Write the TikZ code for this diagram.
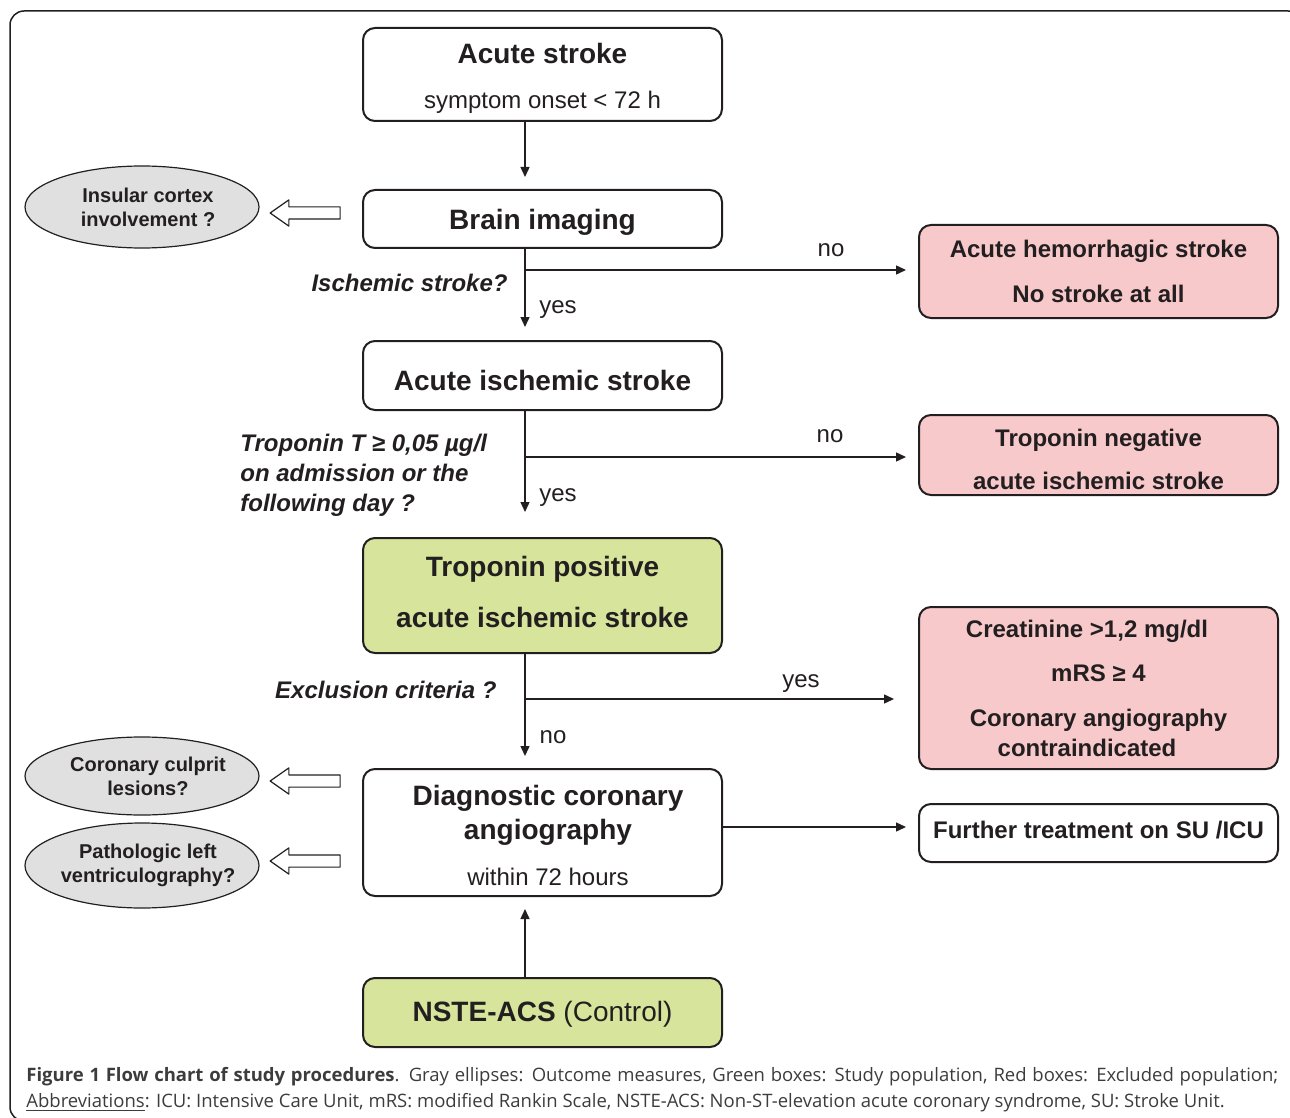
\documentclass[tikz,border=0pt]{standalone}
\usepackage{fontspec}
\setmainfont{Liberation Sans}
\newfontfamily\capfont{Open Sans}
\usetikzlibrary{arrows.meta,shapes.geometric,shapes.arrows}

\definecolor{boxpink}{RGB}{248,201,203}
\definecolor{boxgreen}{RGB}{215,228,155}
\definecolor{ellgray}{RGB}{224,224,224}
\definecolor{inkdark}{RGB}{35,31,32}
\definecolor{capgray}{RGB}{60,60,60}

\begin{document}
\begin{tikzpicture}[x=0.5pt,y=-0.5pt,line join=round,
  box/.style={draw=inkdark,line width=1pt,rounded corners=6pt,align=center,text=inkdark,
    inner sep=2pt,minimum width=179.5pt,font=\fontsize{12}{14}\selectfont},
  whitebox/.style={box,fill=white},
  pinkbox/.style={box,fill=boxpink},
  greenbox/.style={box,fill=boxgreen},
  outcome/.style={ellipse,draw=inkdark,line width=0.6pt,fill=ellgray,minimum width=117pt,
    minimum height=41pt,inner xsep=-12pt,inner ysep=0pt,align=center,text=inkdark,
    font=\fontsize{10}{12}\selectfont\bfseries},
  hollow/.style={single arrow,draw=inkdark,line width=0.6pt,fill=white,rotate=180,
    minimum height=35pt,inner sep=2.75pt,single arrow head extend=3.5pt,single arrow tip angle=70},
  flow/.style={draw=inkdark,line width=0.7pt,-{Triangle[length=5pt,width=4.5pt]}},
  answer/.style={font=\fontsize{12}{14}\selectfont,text=inkdark,inner sep=0pt},
  question/.style={font=\fontsize{12}{15}\selectfont\bfseries\itshape,text=inkdark,inner sep=0pt,align=left}
]

% ===== 画布与外框 =====
\useasboundingbox (0,0) rectangle (1290,1118);
\clip (0,0) rectangle (1290,1118);
\draw[line width=0.75pt,draw=inkdark,rounded corners=7pt] (10,11) rectangle (1302,1121);

% ===== 主线 (x = 542) =====
\node[whitebox,minimum height=46.5pt] (stroke) at (542.5,74.5)
  {\rule{0pt}{14.2pt}{\fontsize{14}{14}\selectfont\bfseries Acute stroke}\\[8.5pt]symptom onset < 72 h};
\node[whitebox,minimum height=29pt,text height=11pt,text depth=0pt] (brain) at (542.5,219)
  {\fontsize{14}{14}\selectfont\bfseries Brain imaging};
\node[whitebox,minimum height=34.5pt,text height=15.2pt,text depth=0pt] (isch) at (542.5,375.5)
  {\fontsize{14}{14}\selectfont\bfseries Acute ischemic stroke};
\node[greenbox,minimum height=57.5pt] (tpos) at (542.5,595.5)
  {{\fontsize{14}{14}\selectfont\bfseries Troponin positive}\\[11.5pt]
   {\fontsize{14}{14}\selectfont\bfseries acute ischemic stroke}\rule[-4pt]{0pt}{4pt}};
\node[whitebox,minimum height=63.5pt] (diag) at (542.5,832.5)
  {\rule{0pt}{13.2pt}\hspace*{5.5pt}{\fontsize{14}{14}\selectfont\bfseries Diagnostic coronary}\\[3pt]
   \hspace*{5.5pt}{\fontsize{14}{14}\selectfont\bfseries angiography}\\[9pt]
   \hspace*{5.5pt}within 72 hours};
\node[greenbox,minimum height=34.5pt,text height=12.2pt] (nste) at (542.5,1012.5)
  {\fontsize{14}{14}\selectfont{\bfseries NSTE-ACS} (Control)};

% ===== 排除 (右侧) =====
\node[pinkbox,minimum height=46.5pt] (hem) at (1098.5,271.5)
  {\bfseries Acute hemorrhagic stroke\\[8.5pt]\bfseries No stroke at all};
\node[pinkbox,minimum height=40pt] (tneg) at (1098.5,455)
  {\rule{0pt}{12.75pt}\bfseries Troponin negative\\[7.5pt]\bfseries acute ischemic stroke};
\node[pinkbox,minimum height=81pt,text depth=0pt] (excl) at (1098.5,688)
  {\bfseries Creatinine >1,2 mg/dl\hspace*{11.5pt}\\[8pt]
   \bfseries mRS ≥ 4\hspace*{11.5pt}\\[8.5pt]
   \bfseries Coronary angiography\hspace*{11.5pt}\\[1pt]
   \bfseries contraindicated\hspace*{11.5pt}};
\node[whitebox,minimum height=29pt,text height=5.75pt] (further) at (1098.5,833)
  {\bfseries Further treatment on SU /ICU};

% ===== 结局指标 (左侧椭圆) =====
\node[outcome] (insula) at (142,207)
  {\hspace*{6pt}Insular cortex\\\hspace*{6pt}involvement ?};
\node[outcome,minimum height=39pt] (culprit) at (142,776)
  {\hspace*{6pt}Coronary culprit\\\hspace*{6pt}lesions?};
\node[outcome,minimum height=42.5pt] (lvgram) at (142,865.5)
  {\hspace*{6pt}Pathologic left\\\hspace*{6pt}ventriculography?};
\node[hollow] (toinsula) at (309.5,213) {};
\node[hollow] (toculprit) at (309.5,781) {};
\node[hollow] (tolvgram) at (309.5,861) {};

% ===== 箭头 =====
\coordinate (spine) at (525,0);
\coordinate (fork1) at (525,270);
\coordinate (fork2) at (525,457);
\coordinate (fork3) at (525,699);
\coordinate (link) at (722,827);
\draw[flow,shorten >=6pt] (stroke.south -| spine) -- (brain.north -| spine);
\draw[flow,shorten >=6.5pt] (brain.south -| spine) -- (isch.north -| spine);
\draw[flow,shorten >=12.5pt] (isch.south -| spine) -- (tpos.north -| spine);
\draw[flow,shorten >=6pt] (tpos.south -| spine) -- (diag.north -| spine);
\draw[flow,shorten >=6pt] (nste.north -| spine) -- (diag.south -| spine);
\draw[flow,shorten >=6pt] (fork1) -- (fork1 -| hem.west);
\draw[flow,shorten >=6pt] (fork2) -- (fork2 -| tneg.west);
\draw[flow,shorten >=12pt] (fork3) -- (fork3 -| excl.west);
\draw[flow,shorten >=6pt] (link) -- (link -| further.west);

% ===== 标注 =====
\node[answer] (no1) at (831,250) {no};
\node[answer] (yes1) at (558,310) {yes};
\node[answer] (no2) at (830,436) {no};
\node[answer] (yes2) at (558,498) {yes};
\node[answer] (yes3) at (801,684) {yes};
\node[answer] (no3) at (553,737) {no};
\node[question,anchor=east] (q1) at (508,283) {Ischemic stroke?};
\node[question,anchor=west] (q2) at (240,475.5)
  {Troponin T ≥ 0,05 µg/l\\on admission or the\\following day ?};
\node[question,anchor=east] (q3) at (497,690) {Exclusion criteria ?};

% ===== 图注 =====
\node[anchor=north west,text width=626pt,align=justify,inner sep=0pt,text=capgray,
  font=\capfont\fontsize{9.25}{13}\selectfont] (caption) at (26,1067)
  {{\bfseries Figure 1 Flow chart of study procedures}. Gray ellipses: Outcome measures,
   Green boxes: Study population, Red boxes: Excluded population;\linebreak
   \underline{Abbreviations}: ICU: Intensive Care Unit, mRS: modified Rankin Scale,
   NSTE-ACS: Non-ST-elevation acute coronary syndrome, SU: Stroke Unit.};

\end{tikzpicture}
\end{document}
